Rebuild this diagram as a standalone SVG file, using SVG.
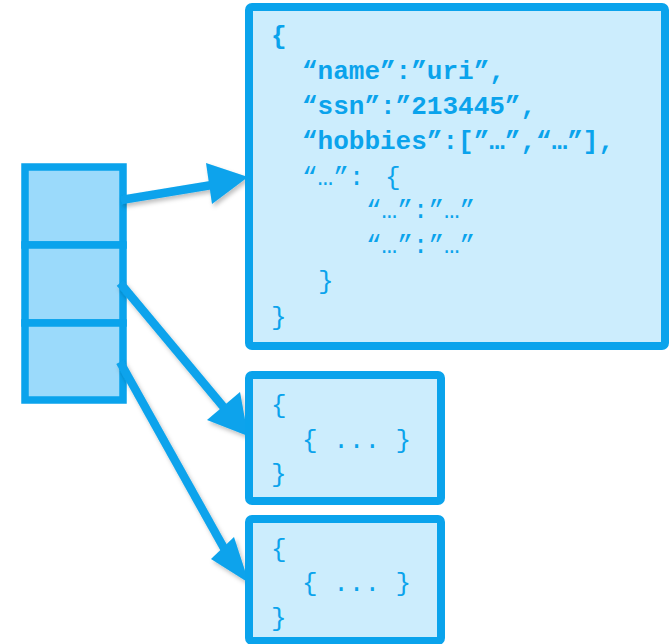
<svg xmlns="http://www.w3.org/2000/svg" width="670" height="644" viewBox="0 0 670 644">
<defs>
<style>
.box{fill:#CCEDFD;stroke:#0AA3EC;stroke-width:8}
.cell{fill:#9BDAFB;stroke:#0AA3EC;stroke-width:7.5}
.t{font-family:"Liberation Mono","Courier New",monospace;font-size:26px;fill:#0AA3EC}
.b{font-weight:bold}
.conn{stroke:#0AA3EC;stroke-width:8.5;fill:none}
.head{fill:#0AA3EC}
</style>
<filter id="sh" x="-20%" y="-20%" width="140%" height="140%">
<feDropShadow dx="2" dy="3" stdDeviation="2" flood-color="#000" flood-opacity="0.25"/>
</filter>
</defs>
<g id="array">
<rect class="cell" x="25" y="167" width="98" height="78"/>
<rect class="cell" x="25" y="245" width="98" height="78"/>
<rect class="cell" x="25" y="323" width="98" height="77"/>
</g>
<g id="connectors" filter="url(#sh)">
<line class="conn" x1="121" y1="200" x2="212" y2="185"/>
<polygon class="head" points="248,177 206,163 212,204"/>
<line class="conn" x1="120" y1="283" x2="226" y2="410"/>
<polygon class="head" points="248,436 207,420 240,392"/>
<line class="conn" x1="120" y1="362" x2="225" y2="550"/>
<polygon class="head" points="249,583 211,559 234,537"/>
</g>
<g id="doc-main">
<rect class="box" x="249" y="7" width="416" height="339" rx="3"/>
<text class="t b" x="271" y="44">{</text>
<text class="t b" x="302" y="79">“name”:”uri”,</text>
<text class="t b" x="302" y="114">“ssn”:”213445”,</text>
<text class="t b" x="302" y="149">“hobbies”:[”…”,“…”],</text>
<text class="t" x="302" y="185">“…”:</text>
<text class="t" x="385" y="185">{</text>
<text class="t" x="366" y="218">“…”:”…”</text>
<text class="t" x="366" y="253">“…”:”…”</text>
<text class="t" x="318" y="289">}</text>
<text class="t" x="271" y="325">}</text>
</g>
<g id="doc-2">
<rect class="box" x="249" y="375" width="192" height="126" rx="3"/>
<text class="t" x="271" y="413">{</text>
<text class="t" x="302" y="448">{ ... }</text>
<text class="t" x="271" y="482">}</text>
</g>
<g id="doc-3">
<rect class="box" x="249" y="519" width="192" height="122" rx="3"/>
<text class="t" x="271" y="557">{</text>
<text class="t" x="302" y="591">{ ... }</text>
<text class="t" x="271" y="626">}</text>
</g>
</svg>
